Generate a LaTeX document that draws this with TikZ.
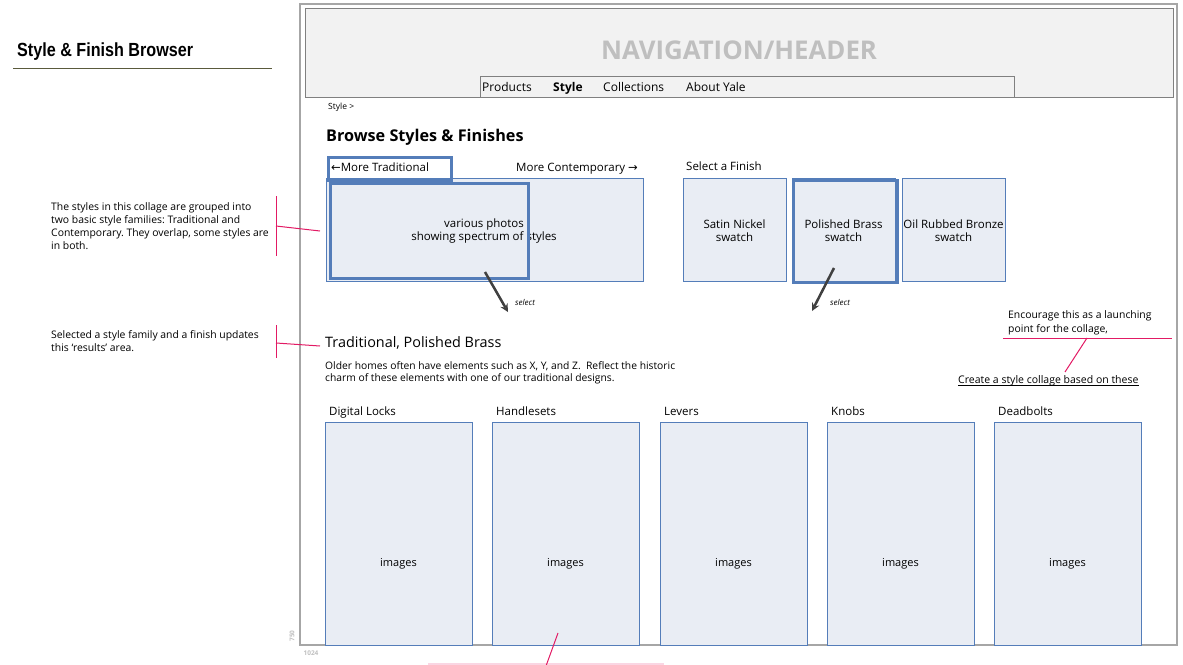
\documentclass[tikz,border=0pt]{standalone}
\usepackage{fontspec}
\setmainfont{Open Sans}
\newfontfamily\titlefont{Liberation Sans}[FakeStretch=0.85]
\newfontfamily\arrowfont{DejaVu Sans}
\frenchspacing
\definecolor{pageframe}{RGB}{166,166,166}
\definecolor{hdrline}{RGB}{128,128,128}
\definecolor{hdrfill}{RGB}{242,242,242}
\definecolor{hdrtext}{RGB}{191,191,191}
\definecolor{boxfill}{RGB}{233,237,244}
\definecolor{boxline}{RGB}{84,125,185}
\definecolor{notepink}{RGB}{226,26,100}
\definecolor{inkgray}{RGB}{64,64,64}
\definecolor{titleline}{RGB}{90,90,60}
\begin{document}
\begin{tikzpicture}[x=1pt,y=-1pt,>=stealth,
	every node/.style={inner sep=0pt,text=black},
	box/.style={draw=boxline,fill=boxfill,line width=0.9pt,anchor=north west},
	chosen/.style={draw=boxline,line width=3pt,anchor=north west},
	hdrbox/.style={draw=hdrline,fill=hdrfill,line width=0.9pt,anchor=north west},
	note/.style={font=\fontsize{10.4}{13}\selectfont,align=left,anchor=base west},
	txt/.style={font=\fontsize{11.5}{13}\selectfont,anchor=base west},
	mid/.style={font=\fontsize{11.5}{13}\selectfont,align=center},
	seltxt/.style={font=\itshape\fontsize{8}{9}\selectfont,anchor=base west},
	pinkline/.style={draw=notepink,line width=1pt},
	pick/.style={->,draw=inkgray,line width=2.5pt}]
	\useasboundingbox (0,0) rectangle (1183,664);
	% title
	\node[anchor=base west,font=\titlefont\bfseries\fontsize{19}{21}\selectfont] (title) at (17,56) {Style \& Finish Browser};
	\draw[titleline,line width=1pt] (13,68) -- (272,68);
	% page and header
	\draw[pageframe,line width=1.3pt] (300,4) rectangle (1177,645);
	\node[hdrbox,minimum width=868pt,minimum height=89pt] (header) at (305,8) {};
	\node[font=\bfseries\fontsize{25.8}{28}\selectfont,text=hdrtext] (navtitle) at (739,50) {NAVIGATION/HEADER};
	\node[hdrbox,minimum width=534pt,minimum height=21pt] (navbar) at (480,76) {};
	\foreach \x/\t [count=\i] in {482/Products,553/\textbf{Style},603/Collections,686/About Yale}
	\node[txt,font=\fontsize{12}{14}\selectfont] (nav\i) at (\x,91) {\t};
	\node[anchor=base west,font=\fontsize{8.5}{10}\selectfont] (crumb) at (328,109) {Style >};
	\node[anchor=base west,font=\bfseries\fontsize{16.2}{18}\selectfont] (browse) at (326,141) {Browse Styles \& Finishes};
	% style spectrum
	\node[box,minimum width=317pt,minimum height=103pt] (photos) at (326,178) {};
	\node[mid] (photostext) at (484,231) {various photos\\showing spectrum of styles};
	\node[chosen,minimum width=198pt,minimum height=95pt] (tradpick) at (329,182) {};
	\node[chosen,minimum width=123pt,minimum height=23pt] (tradtab) at (327,156) {};
	\node[txt] (trad) at (331,171) {{\arrowfont ←}More Traditional};
	\node[txt] (contemp) at (516,171) {More Contemporary {\arrowfont →}};
	\coordinate (pick1a) at (485,272);
	\coordinate (pick1b) at (508,312);
	\draw[pick] (pick1a) -- (pick1b);
	\node[seltxt] (sel1) at (515,305) {select};
	% finishes
	\node[txt] (finish) at (686,170) {Select a Finish};
	\foreach \x/\t [count=\i] in {683/Satin Nickel,792/Polished Brass,902/Oil Rubbed Bronze}{
		\node[box,minimum width=103pt,minimum height=103pt] (swatch\i) at (\x,178) {};
		\node[mid] (swatchtext\i) at (\x+51.5,231) {\t\\swatch};
	}
	\node[chosen,minimum width=104pt,minimum height=102pt] (brasspick) at (792,179) {};
	\coordinate (pick2a) at (834,268);
	\coordinate (pick2b) at (812,311);
	\draw[pick] (pick2a) -- (pick2b);
	\node[seltxt] (sel2) at (830,305) {select};
	% results
	\node[anchor=base west,font=\fontsize{14.4}{16}\selectfont] (results) at (325,347) {Traditional, Polished Brass};
	\node[note,font=\fontsize{10.3}{12}\selectfont] (blurb) at (325,381) {Older homes often have elements such as X, Y, and Z.\ \ Reflect the historic\\charm of these elements with one of our traditional designs.};
	\foreach \x/\t [count=\i] in {325/Digital Locks,492/Handlesets,660/Levers,827/Knobs,994/Deadbolts}{
		\node[box,minimum width=147pt,minimum height=223pt] (cat\i) at (\x,422) {};
		\node[txt] (catlabel\i) at (\x+4,415) {\t};
		\node[font=\fontsize{11}{13}\selectfont] (img\i) at (\x+73.5,564) {images};
	}
	\node[font=\bfseries\fontsize{6.5}{7}\selectfont,text=hdrtext,rotate=90] (height) at (292,636) {750};
	\node[font=\bfseries\fontsize{6.5}{7}\selectfont,text=hdrtext] (width) at (311,653) {1024};
	% notes
	\node[note] (note1) at (51,249) {The styles in this collage are grouped into\\two basic style families: Traditional and\\Contemporary. They overlap, some styles are\\in both.};
	\coordinate (b1top) at (276,196);
	\coordinate (b1bot) at (276,256);
	\coordinate (b1mid) at (276,226);
	\coordinate (b1end) at (320,231);
	\draw[pinkline] (b1top) -- (b1bot);
	\draw[pinkline] (b1mid) -- (b1end);
	\node[note] (note2) at (51,351) {Selected a style family and a finish updates\\this `results' area.};
	\coordinate (b2top) at (276,325);
	\coordinate (b2bot) at (276,358);
	\coordinate (b2mid) at (276,343);
	\coordinate (b2end) at (320,346);
	\draw[pinkline] (b2top) -- (b2bot);
	\draw[pinkline] (b2mid) -- (b2end);
	\node[note,font=\fontsize{10.4}{14}\selectfont] (note3) at (1008,332) {Encourage this as a launching\\point for the collage,};
	\coordinate (n3left) at (1003,338);
	\coordinate (n3right) at (1172,338);
	\coordinate (n3tip) at (1087,338);
	\coordinate (n3foot) at (1065,372);
	\draw[pinkline] (n3left) -- (n3right);
	\draw[pinkline] (n3tip) -- (n3foot);
	\node[note,font=\fontsize{10.5}{12}\selectfont] (collage) at (958,383) {Create a style collage based on these};
	\draw[line width=0.7pt] ([yshift=-2.5pt]collage.base west) -- ([yshift=-2.5pt]collage.base east);
	\fill[notepink!18] (428,662.5) rectangle (664,668);
	\coordinate (n4top) at (558,633);
	\coordinate (n4bot) at (546,666);
	\draw[pinkline] (n4top) -- (n4bot);
\end{tikzpicture}
\end{document}
